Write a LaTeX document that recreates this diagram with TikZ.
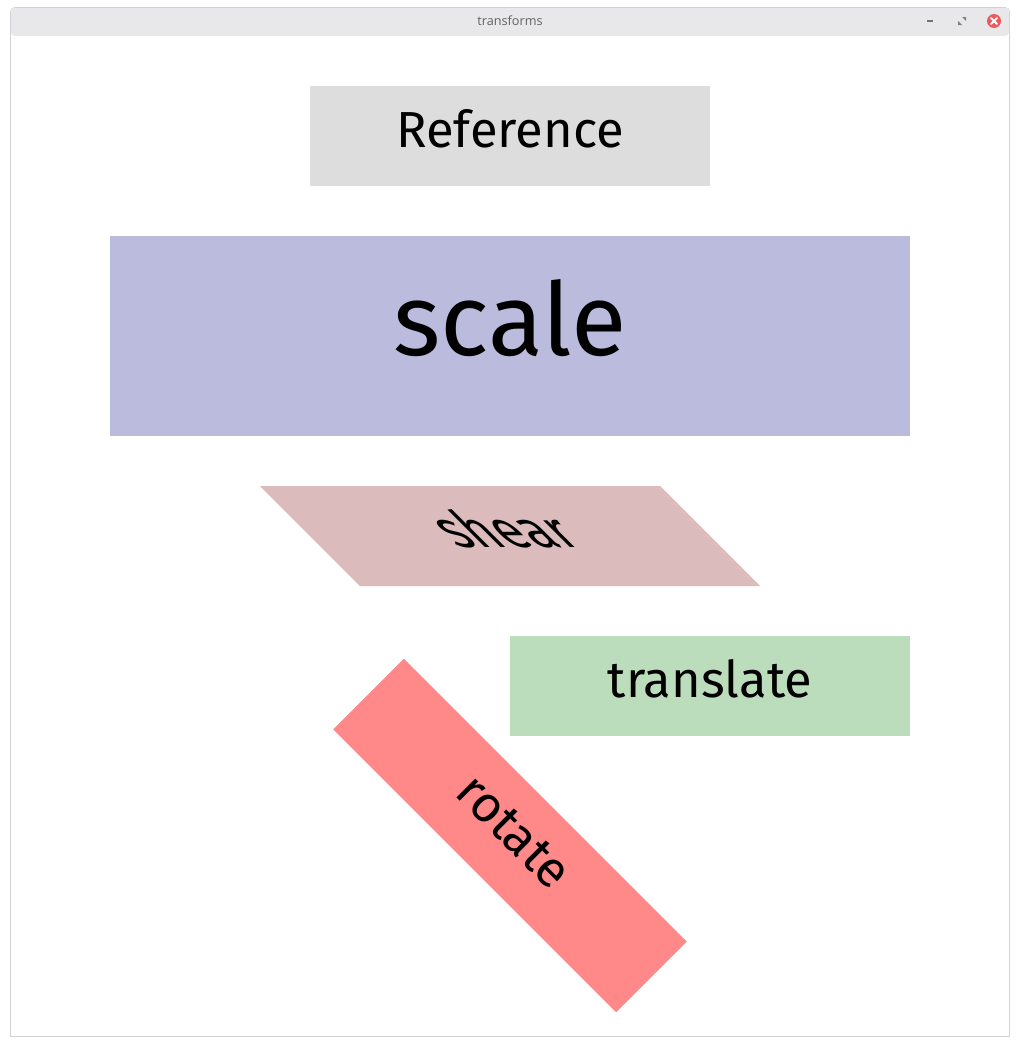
\documentclass[tikz,border=0pt]{standalone}
\usepackage{fontspec}
\setmainfont{Fira Sans}
\newfontfamily\titlefont{Open Sans}
\definecolor{refcol}{HTML}{DDDDDD}
\definecolor{scalecol}{HTML}{BBBBDD}
\definecolor{shearcol}{HTML}{DBBBBB}
\definecolor{transcol}{HTML}{BBDDBB}
\definecolor{rotcol}{HTML}{FF8888}
\definecolor{barcol}{HTML}{E8E8EB}
\definecolor{framecol}{HTML}{D2D2D5}
\definecolor{closecol}{HTML}{EC5A5F}
\tikzset{
  panel/.style={fill=#1, draw=none},
  caption/.style={font=\fontsize{38}{42}\selectfont, anchor=base, inner sep=0pt},
  bigcaption/.style={font=\fontsize{76}{84}\selectfont, anchor=base, inner sep=0pt},
}

\begin{document}
\begin{tikzpicture}[x=0.75pt, y=-0.75pt]
  \useasboundingbox (0,0) rectangle (1020,1046);
  % window
  \fill[white] (0,0) rectangle (1020,1046);
  \draw[framecol, fill=white, rounded corners=3] (10.5,1036) -- (10.5,7.5) -- (1009.5,7.5) -- (1009.5,1036);
  \draw[framecol, fill=barcol] (10.5,1036) -- (10.5,36) -- (1009.5,36) -- (1009.5,1036) -- cycle;
  \fill[barcol, rounded corners=3] (11,8) rectangle (1009,36);
  \draw[framecol] (10.5,1036) -- (1009.5,1036);
  \fill[white] (11,36) rectangle (1009,1035.5);
  \node[font=\titlefont\fontsize{9.5}{11}\selectfont, text=black!62] (title) at (510,21) {transforms};
  \fill[black!55] (927,20) rectangle (933,22);
  \fill[black!50] (958,25) -- (958,21) -- (962,25) -- cycle;
  \fill[black!50] (966,17) -- (966,21) -- (962,17) -- cycle;
  \fill[closecol] (994,21) circle (7);
  \draw[white, line width=1.5pt, line cap=round] (991,18) -- (997,24) (991,24) -- (997,18);

  % reference
  \fill[panel=refcol] (310,86) rectangle (710,186);
  \node[caption] (reftext) at (510,147) {Reference};

  % scale
  \fill[panel=scalecol] (110,236) rectangle (910,436);
  \node[bigcaption] (scaletext) at (510,355) {scale};

  % shear
  \begin{scope}[shift={(510,536)}, xslant=-1]
    \fill[panel=shearcol] (-200,-50) rectangle (200,50);
    \node[caption, transform shape] (sheartext) at (0,11) {shear};
  \end{scope}

  % translate
  \fill[panel=transcol] (510,636) rectangle (910,736);
  \node[caption] (transtext) at (710,697) {translate};

  % rotate
  \begin{scope}[shift={(510,835.5)}, rotate=-45]
    \fill[panel=rotcol] (-200,-50) rectangle (200,50);
    \node[caption, transform shape] (rottext) at (0,11) {rotate};
  \end{scope}
\end{tikzpicture}
\end{document}
